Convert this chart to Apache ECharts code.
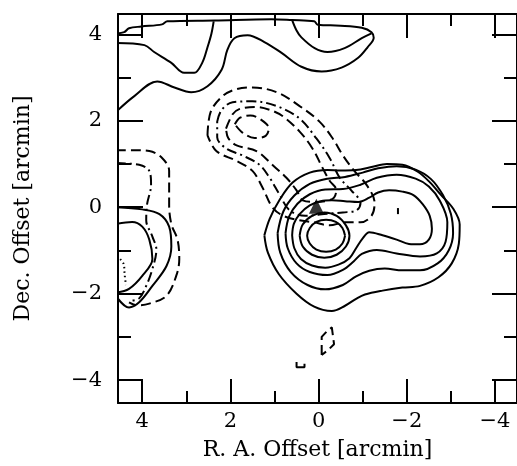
<!DOCTYPE html>
<html>
<head>
<meta charset="utf-8">
<script src="https://cdn.jsdelivr.net/npm/echarts@6/dist/echarts.min.js"></script>
<style>html,body{margin:0;padding:0;background:#fff}#c{width:517px;height:466px}</style>
</head>
<body>
<div id="c"></div>
<script>
// ---- axis ticks ----
const majorTicks = [-4, -2, 0, 2, 4];
const minorTicks = [-3, -1, 1, 3];
const xRange = [-4.5, 4.55];
const yRange = [-4.53, 4.47];

// ---- contours [R.A. offset, Dec offset] in arcmin ----
// solid contours around the main source
const c1 = [[-0.60,-0.66],[-0.54,-0.48],[-0.39,-0.34],[-0.17,-0.29],[0.05,-0.34],[0.20,-0.48],[0.26,-0.66],[0.20,-0.84],[0.05,-0.98],[-0.17,-1.03],[-0.39,-0.98],[-0.54,-0.84],[-0.60,-0.66]];
const c2 = [[0.43,-0.66],[0.36,-0.40],[0.15,-0.20],[-0.13,-0.12],[-0.41,-0.20],[-0.62,-0.42],[-0.70,-0.66],[-0.62,-0.91],[-0.41,-1.10],[-0.13,-1.17],[0.15,-1.10],[0.36,-0.91],[0.43,-0.66]];
const c3 = [[0.6,-0.65],[0.55,-0.95],[0.4,-1.2],[0.15,-1.35],[-0.15,-1.4],[-0.45,-1.33],[-0.7,-1.18],[-0.85,-0.95],[-1.0,-0.72],[-1.15,-0.58],[-1.45,-0.65],[-1.77,-0.75],[-2.05,-0.85],[-2.3,-0.86],[-2.5,-0.75],[-2.57,-0.5],[-2.52,-0.2],[-2.36,0.07],[-2.15,0.28],[-1.9,0.36],[-1.6,0.39],[-1.35,0.34],[-1.15,0.22],[-0.9,0.12],[-0.6,0.14],[-0.3,0.16],[-0.05,0.14],[0.2,0.04],[0.42,-0.15],[0.56,-0.38],[0.6,-0.65]];
const c4 = [[0.75,-0.6],[0.7,-0.95],[0.5,-1.3],[0.2,-1.5],[-0.2,-1.57],[-0.55,-1.45],[-0.8,-1.25],[-0.98,-1.08],[-1.32,-0.99],[-1.77,-1.07],[-2.3,-1.14],[-2.68,-1.07],[-2.88,-0.8],[-2.92,-0.35],[-2.75,0.15],[-2.5,0.48],[-2.2,0.66],[-1.77,0.75],[-1.32,0.68],[-0.95,0.52],[-0.55,0.42],[-0.15,0.41],[0.2,0.3],[0.48,0.08],[0.67,-0.22],[0.75,-0.6]];
const c5 = [[0.93,-0.6],[0.87,-1.05],[0.63,-1.5],[0.25,-1.8],[-0.15,-1.9],[-0.55,-1.8],[-0.85,-1.6],[-1.15,-1.47],[-1.5,-1.42],[-1.9,-1.46],[-2.3,-1.46],[-2.7,-1.3],[-2.95,-1.0],[-3.05,-0.6],[-3.0,-0.15],[-2.82,0.28],[-2.55,0.65],[-2.2,0.87],[-1.77,0.95],[-1.35,0.9],[-1.0,0.8],[-0.6,0.7],[-0.2,0.66],[0.2,0.54],[0.55,0.27],[0.8,-0.1],[0.93,-0.6]];
const c6 = [[1.23,-0.65],[1.15,-1.05],[0.9,-1.55],[0.5,-2.0],[0.1,-2.3],[-0.3,-2.4],[-0.6,-2.28],[-0.85,-2.12],[-1.05,-2.02],[-1.45,-1.93],[-1.9,-1.86],[-2.3,-1.82],[-2.72,-1.62],[-3.02,-1.3],[-3.18,-0.85],[-3.2,-0.4],[-3.05,-0.03],[-2.78,0.28],[-2.52,0.58],[-2.25,0.82],[-1.9,0.98],[-1.55,1.0],[-1.2,0.93],[-0.85,0.86],[-0.5,0.85],[-0.2,0.86],[0.2,0.8],[0.59,0.57],[0.89,0.16],[1.11,-0.27],[1.23,-0.65]];
const peakE = [[-1.8,-0.02],[-1.8,-0.16]];
// dashed / dash-dot contours (NE ridge)
const d1 = [[1.9,1.92],[1.78,2.07],[1.55,2.12],[1.3,2.02],[1.13,1.82],[1.2,1.65],[1.45,1.6],[1.72,1.72],[1.9,1.92]];
const d2 = [[2.1,1.82],[1.95,2.15],[1.8,2.27],[1.41,2.32],[1.1,2.25],[0.82,2.11],[0.43,1.75],[0.14,1.36],[-0.09,0.91],[-0.25,0.61],[-0.4,0.4],[-0.35,0.22],[-0.2,0.15],[0.05,0.12],[0.36,0.16],[0.5,0.39],[0.73,0.68],[1.05,0.98],[1.41,1.3],[1.86,1.43],[2.05,1.6],[2.1,1.82]];
const d3 = [[2.3,1.98],[2.2,2.25],[1.95,2.43],[1.5,2.45],[0.95,2.34],[0.43,2.05],[0.05,1.59],[-0.25,1.14],[-0.48,0.68],[-0.75,0.38],[-0.95,0.1],[-0.85,-0.08],[-0.55,-0.12],[-0.2,-0.15],[0.3,-0.2],[0.66,-0.07],[0.89,0.3],[1.11,0.68],[1.34,0.98],[1.73,1.2],[2.1,1.36],[2.3,1.62],[2.3,1.98]];
const d4 = [[2.52,1.66],[2.45,2.2],[2.2,2.55],[1.9,2.72],[1.5,2.77],[0.95,2.66],[0.43,2.34],[-0.02,1.98],[-0.32,1.59],[-0.55,1.2],[-0.8,0.85],[-1.1,0.5],[-1.27,0.1],[-1.2,-0.2],[-0.95,-0.35],[-0.6,-0.35],[-0.25,-0.42],[0.1,-0.35],[0.45,-0.3],[0.8,-0.2],[1.05,0.0],[1.27,0.45],[1.5,0.84],[1.86,1.07],[2.32,1.3],[2.52,1.66]];
// eastern edge (left side) contours
const l1 = [[4.6,1.32],[4.2,1.32],[3.84,1.3],[3.55,1.14],[3.39,0.84],[3.39,0.07],[3.34,-0.39],[3.2,-0.75],[3.16,-1.2],[3.23,-1.59],[3.45,-2.05],[3.84,-2.23],[4.11,-2.27],[4.3,-2.2]];
const l2 = [[4.6,1.02],[4.07,0.98],[3.84,0.84],[3.8,0.52],[3.89,0.07],[3.91,-0.3],[3.77,-0.68],[3.68,-0.98],[3.77,-1.43],[3.91,-1.82],[4.07,-2.11],[4.25,-2.16]];
const l3 = [[4.6,0.0],[4.0,-0.05],[3.61,-0.16],[3.39,-0.45],[3.34,-0.91],[3.45,-1.36],[3.77,-1.82],[4.07,-2.2],[4.3,-2.32],[4.6,-2.05]];
const l4 = [[4.6,-0.39],[4.23,-0.34],[4.0,-0.45],[3.84,-0.75],[3.77,-1.2],[4.0,-1.59],[4.3,-1.89],[4.6,-1.98]];
const l5 = [[4.5,-1.2],[4.42,-1.32],[4.4,-1.55],[4.37,-1.8]];
// northern edge contours
const t2 = [[4.6,2.2],[4.18,2.57],[3.66,2.91],[3.27,2.77],[2.89,2.66],[2.52,2.8],[2.2,3.18],[2.07,3.64],[1.91,3.91],[1.61,3.98],[1.23,3.82],[0.84,3.57],[0.39,3.25],[-0.07,3.14],[-0.52,3.23],[-0.89,3.45],[-1.11,3.7],[-1.25,3.92],[-1.2,4.05],[-0.98,4.15],[-0.5,4.2],[0.02,4.22],[0.1,4.3],[0.6,4.33],[1.07,4.35],[2.36,4.32],[3.43,4.3],[3.55,4.23],[4.02,4.18],[4.3,4.14],[4.41,4.05],[4.6,4.02]];
const t1a = [[4.6,3.8],[3.95,3.75],[3.73,3.59],[3.34,3.34],[3.05,3.11],[2.82,3.11],[2.64,3.34],[2.52,3.7],[2.43,4.02],[2.38,4.3]];
const t1b = [[0.6,4.33],[0.5,4.09],[0.39,3.93],[0.09,3.68],[-0.2,3.59],[-0.59,3.68],[-0.98,3.91],[-1.2,4.02]];
// southern fragments
const p1 = [[-0.07,-3.42],[-0.07,-3.0],[-0.18,-2.88],[-0.3,-2.78],[-0.35,-3.17],[-0.22,-3.3],[-0.07,-3.42]];
const p2 = [[0.5,-3.58],[0.5,-3.7],[0.32,-3.7],[0.32,-3.62]];
// source position
const source = [[0.05, 0.02]];

const DASH = [10, 5];
const DASHDOT = [10, 4, 2, 4];
const DOT = [1.5, 3];

const FONT = 'DejaVu Serif';
const fmt = v => (v < 0 ? '\u2212' + Math.abs(v) : String(v));

function line(data, type, smooth) {
  return {
    type: 'line', data: data, showSymbol: false, symbol: 'none',
    smooth: smooth === undefined ? 0.35 : smooth, animation: false,
    lineStyle: { color: '#000', width: 2, type: type || 'solid' },
    silent: true, z: 3
  };
}

function xAx(pos, values, len, withLabel, withLine) {
  return {
    type: 'value', position: pos, inverse: true, min: xRange[0], max: xRange[1],
    axisLine: { show: withLine, onZero: false, lineStyle: { color: '#000', width: 2 } },
    axisTick: { show: true, inside: true, length: len, customValues: values, lineStyle: { color: '#000', width: 2 } },
    axisLabel: withLabel ? { show: true, customValues: values, formatter: fmt, color: '#000', fontFamily: FONT, fontSize: 21, margin: 8 } : { show: false },
    splitLine: { show: false },
    name: withLabel ? 'R. A. Offset [arcmin]' : '',
    nameLocation: 'middle', nameGap: 36,
    nameTextStyle: { color: '#000', fontFamily: FONT, fontSize: 22 }
  };
}
function yAx(pos, values, len, withLabel, withLine) {
  return {
    type: 'value', position: pos, min: yRange[0], max: yRange[1],
    axisLine: { show: withLine, onZero: false, lineStyle: { color: '#000', width: 2 } },
    axisTick: { show: true, inside: true, length: len, customValues: values, lineStyle: { color: '#000', width: 2 } },
    axisLabel: withLabel ? { show: true, customValues: values, formatter: fmt, color: '#000', fontFamily: FONT, fontSize: 21, margin: 16 } : { show: false },
    splitLine: { show: false },
    name: withLabel ? 'Dec. Offset [arcmin]' : '',
    nameLocation: 'middle', nameGap: 84, nameRotate: 90,
    nameTextStyle: { color: '#000', fontFamily: FONT, fontSize: 22 }
  };
}

const chart = echarts.init(document.getElementById('c'), null, { renderer: 'canvas' });
chart.setOption({
  animation: false,
  backgroundColor: '#fff',
  grid: { left: 118, top: 14, width: 400, height: 391, containLabel: false },
  xAxis: [
    xAx('bottom', majorTicks, 24, true, true),
    xAx('bottom', minorTicks, 12, false, false),
    xAx('top', majorTicks, 24, false, true),
    xAx('top', minorTicks, 12, false, false)
  ],
  yAxis: [
    yAx('left', majorTicks, 25, true, true),
    yAx('left', minorTicks, 13, false, false),
    yAx('right', majorTicks, 25, false, true),
    yAx('right', minorTicks, 13, false, false)
  ],
  series: [
    line(c1), line(c2), line(c3), line(c4), line(c5), line(c6), line(peakE, 'solid', 0),
    line(d1, DASH), line(d2, DASH), line(d3, DASHDOT), line(d4, DASH),
    line(l1, DASH), line(l2, DASHDOT), line(l3), line(l4), line(l5, DOT),
    line(t2), line(t1a), line(t1b),
    line(p1, DASH, 0), line(p2, 'solid', 0),
    { type: 'scatter', data: source, symbol: 'triangle', symbolSize: 15, itemStyle: { color: '#000' }, z: 5, animation: false }
  ]
});
</script>
</body>
</html>
